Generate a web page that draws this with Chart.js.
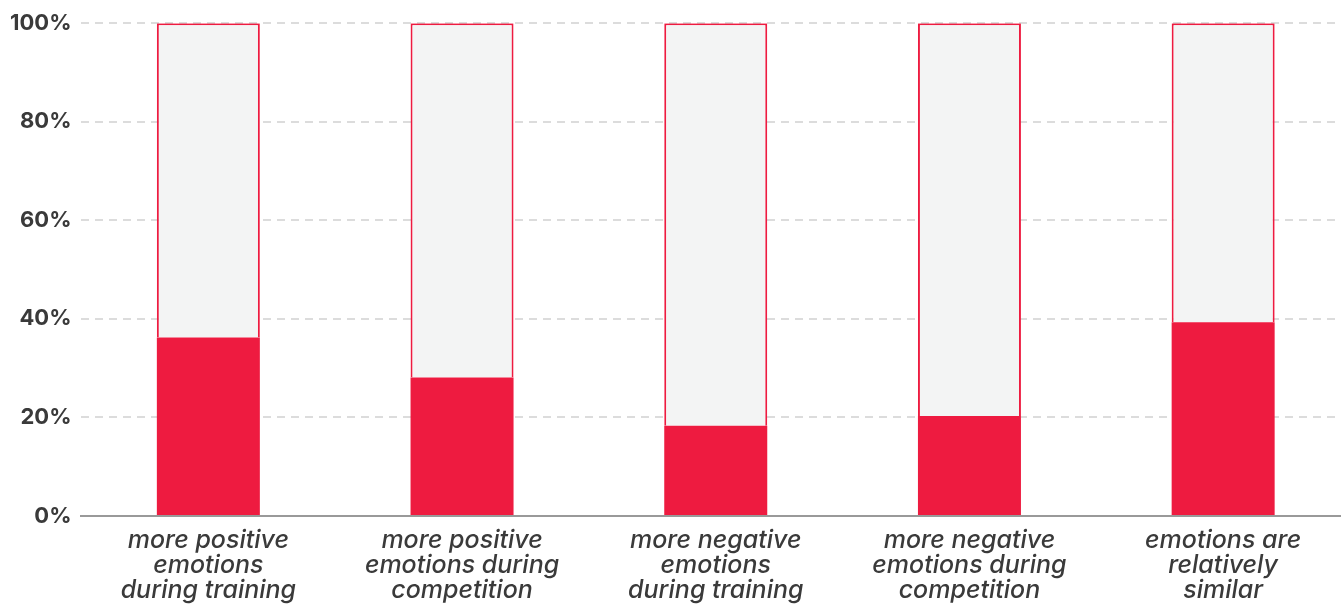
<!DOCTYPE html>
<html>
<head>
<meta charset="utf-8">
<script src="https://cdn.jsdelivr.net/npm/chart.js@4"></script>
<style>
    html, body { margin: 0; padding: 0; background: #fff; overflow: hidden; }
    #wrap { width: 1350px; height: 615px; position: relative; }
</style>
</head>
<body>
<div id="wrap"><canvas id="emotionsChart"></canvas></div>
<script>
// Categories (multi-line labels) and shares in percent
const categories = [
    ['more positive', 'emotions', 'during training'],
    ['more positive', 'emotions during', 'competition'],
    ['more negative', 'emotions', 'during training'],
    ['more negative', 'emotions during', 'competition'],
    ['emotions are', 'relatively', 'similar']
];
const shareValues = [36.2, 28.1, 18.3, 20.3, 39.3];
const restValues = shareValues.map(v => 100 - v);
const yTicks = [0, 20, 40, 60, 80, 100];

const red = '#ee1b40';
const textColor = '#3a3a3a';

const createEmotionsChart = () => {
    const ctx = document.getElementById('emotionsChart').getContext('2d');

    new Chart(ctx, {
        type: 'bar',
        data: {
            labels: categories,
            datasets: [
                {
                    label: 'share',
                    data: shareValues,
                    backgroundColor: red,
                    borderWidth: 0
                },
                {
                    label: 'rest',
                    data: restValues,
                    backgroundColor: '#f3f4f4',
                    borderColor: red,
                    borderWidth: 2
                }
            ]
        },
        options: {
            responsive: true,
            maintainAspectRatio: false,
            animation: false,
            barPercentage: 0.406,
            categoryPercentage: 1,
            layout: {
                padding: { top: 11, left: 0, right: 0, bottom: 0 }
            },
            plugins: {
                legend: { display: false },
                tooltip: { enabled: false }
            },
            scales: {
                x: {
                    stacked: true,
                    grid: { display: false, drawTicks: false },
                    border: { display: true, color: '#999999', width: 2 },
                    ticks: {
                        color: textColor,
                        padding: 12,
                        maxRotation: 0,
                        autoSkip: false,
                        font: { family: 'Inter', size: 25, style: 'italic', weight: 500, lineHeight: 1 }
                    }
                },
                y: {
                    stacked: true,
                    min: 0,
                    max: 100,
                    afterBuildTicks: (scale) => {
                        scale.ticks = yTicks.map(v => ({ value: v }));
                    },
                    grid: { color: '#dcdcdc', lineWidth: 2, drawTicks: false },
                    border: { display: false, dash: [8, 6] },
                    ticks: {
                        color: textColor,
                        padding: 10,
                        callback: (value) => value + '%',
                        font: { family: 'Inter', size: 22, weight: 'bold' }
                    }
                }
            }
        }
    });
}

createEmotionsChart();
</script>
</body>
</html>
